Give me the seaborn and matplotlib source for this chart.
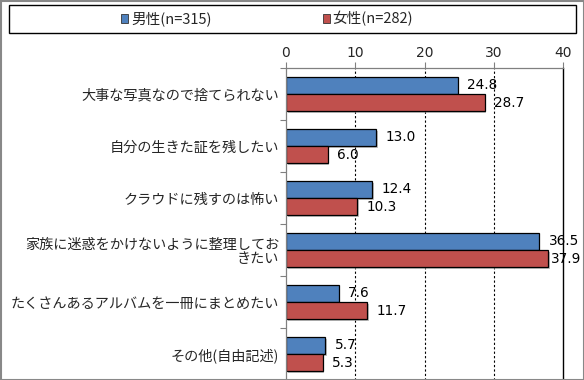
import matplotlib
matplotlib.use("Agg")
import matplotlib.pyplot as plt
import matplotlib.patheffects as pe
import seaborn as sns
import pandas as pd
from matplotlib.patches import Rectangle
from matplotlib.ticker import FixedLocator

categories = [
    "大事な写真なので捨てられない",
    "自分の生きた証を残したい",
    "クラウドに残すのは怖い",
    "家族に迷惑をかけないように整理してお\nきたい",
    "たくさんあるアルバムを一冊にまとめたい",
    "その他(自由記述)",
]
series = ["男性(n=315)", "女性(n=282)"]
male = [24.8, 13.0, 12.4, 36.5, 7.6, 5.7]
female = [28.7, 6.0, 10.3, 37.9, 11.7, 5.3]
xticks = [0, 10, 20, 30, 40]
colors = ["#4F81BD", "#C0504D"]

sns.set_theme(style="white")
plt.rcParams["font.family"] = ["Noto Sans CJK JP", "DejaVu Sans"]

df = pd.DataFrame({
    "category": categories * 2,
    "value": male + female,
    "series": [series[0]] * len(categories) + [series[1]] * len(categories),
})

fig = plt.figure(figsize=(5.84, 3.8), dpi=100)
ax = fig.add_axes([286 / 584, 0.0, (563 - 286) / 584, 1 - 68 / 380])

sns.barplot(data=df, y="category", x="value", hue="series", order=categories,
            hue_order=series, palette=colors, orient="h", width=0.66,
            edgecolor="black", linewidth=0.9, saturation=1, ax=ax, legend=False)

for cont in ax.containers:
    for bar in cont:
        bar.set_path_effects([pe.SimplePatchShadow(offset=(1.2, -1.2), shadow_rgbFace="#999999", alpha=0.6),
                              pe.Normal()])
    anns = ax.bar_label(cont, fmt="%.1f", padding=7, fontsize=9.8, color="black",
                        family=["DejaVu Sans"], clip_on=False)
    for bar, ann in zip(cont, anns):
        if bar.get_width() > 37:
            ann.xyann = (2, 0)

ax.set_xlim(0, 40)
ax.set_ylim(len(categories) - 0.5, -0.5)
ax.set_xlabel("")
ax.set_ylabel("")
ax.xaxis.tick_top()
ax.set_xticks(xticks)
ax.set_xticklabels([str(t) for t in xticks], fontsize=10, family=["DejaVu Sans"])
ax.tick_params(axis="x", which="major", direction="out", length=4, width=0.8,
               color="#808080", pad=2, top=True, bottom=False)
ax.tick_params(axis="y", which="major", length=0, pad=5, labelsize=10.2)
ax.yaxis.set_minor_locator(FixedLocator([i + 0.5 for i in range(-1, len(categories))]))
ax.tick_params(axis="y", which="minor", direction="out", length=4, width=0.8,
               color="#808080", left=True)
for lbl in ax.get_yticklabels():
    lbl.set_horizontalalignment("right")
    lbl.set_multialignment("right")
    lbl.set_linespacing(1.05)

for x in [10, 20, 30]:
    ax.axvline(x, color="black", linestyle=(0, (2, 2)), linewidth=0.8, zorder=0)
ax.grid(False)

for s in ["left", "top"]:
    ax.spines[s].set_color("#808080")
    ax.spines[s].set_linewidth(0.9)
ax.spines["right"].set_color("black")
ax.spines["right"].set_linewidth(1.0)
ax.spines["bottom"].set_visible(False)

# Legend box
fig.patches.append(Rectangle((9 / 584, 1 - 33 / 380), 567 / 584, 28 / 380,
                             transform=fig.transFigure, fill=False,
                             edgecolor="black", linewidth=1.0))
handles = [Rectangle((0, 0), 1, 1, facecolor=c, edgecolor="#333333", linewidth=0.6)
           for c in colors]
fig.legend(handles, series, loc="center left",
           bbox_to_anchor=(121 / 584, 1 - 19 / 380), ncol=2, frameon=False,
           fontsize=10.5, handlelength=0.5, handleheight=0.5, handletextpad=0.2,
           columnspacing=7.6, borderpad=0, borderaxespad=0)

# Outer border
fig.patches.append(Rectangle((0.5 / 584, 0.5 / 380), 583 / 584, 379 / 380,
                             transform=fig.transFigure, fill=False,
                             edgecolor="#888888", linewidth=1.5))

fig.savefig("out.png", dpi=100)
